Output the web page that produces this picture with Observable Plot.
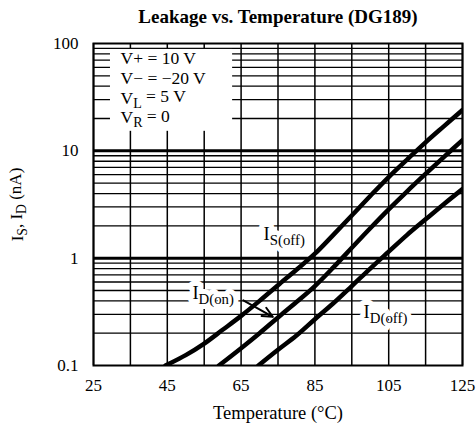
<!DOCTYPE html>
<html>
<head>
<meta charset="utf-8">
<script src="https://cdn.jsdelivr.net/npm/d3@7"></script>
<script src="https://cdn.jsdelivr.net/npm/@observablehq/plot@0.6"></script>
<style>
  html, body { margin: 0; padding: 0; background: white; }
</style>
</head>
<body>
<div id="chart"></div>
<script>
// ---- data ----
const title = "Leakage vs. Temperature (DG189)";
const xLabel = "Temperature (°C)";
const yLabel = "I_{S}, I_{D} (nA)";

const xTickLabels = [25, 45, 65, 85, 105, 125];
const xGrid = [25, 35, 45, 55, 65, 75, 85, 95, 105, 115, 125];
const yTickLabels = [0.1, 1, 10, 100];
const yGridMinor = [0.2, 0.3, 0.4, 0.5, 0.6, 0.7, 0.8, 0.9,
                    2, 3, 4, 5, 6, 7, 8, 9,
                    20, 30, 40, 50, 60, 70, 80, 90];
const yGridMajor = [1, 10];

const sOffT = [44.5, 50, 55, 60, 65, 70, 75, 80, 85, 90, 95, 100, 105, 110, 115, 120, 125];
const sOffI = [0.1, 0.125, 0.16, 0.215, 0.29, 0.4, 0.56, 0.78, 1.1, 1.65, 2.5, 3.8, 5.7, 8.3, 12, 17, 24];

const dOnT = [59, 65, 70, 75, 80, 85, 90, 95, 100, 105, 110, 115, 120, 125];
const dOnI = [0.1, 0.145, 0.2, 0.28, 0.39, 0.55, 0.82, 1.25, 1.9, 2.85, 4.2, 6.1, 8.8, 12.6];

const dOffT = [69.7, 75, 80, 85, 90, 95, 100, 105, 110, 115, 120, 125];
const dOffI = [0.1, 0.14, 0.19, 0.27, 0.38, 0.55, 0.8, 1.15, 1.65, 2.3, 3.2, 4.4];

const legendLines = ["V+ = 10 V", "V− = −20 V", "V_{L} = 5 V", "V_{R} = 0"];
const legendBox = {x1: 29.6, x2: 62.7, y1: 15.2, y2: 88};

const curveLabels = [
  {text: "I_{S(off)}", x: 71.1, y: 1.66},
  {text: "I_{D(on)}", x: 51.8, y: 0.47},
  {text: "I_{D(off)}", x: 98.2, y: 0.312}
];
const arrows = [{x1: 65.6, y1: 0.404, x2: 73.6, y2: 0.284}];

// ---- build table ----
const rows = [
  ...sOffT.map((t, i) => ({series: "IS(off)", t, v: sOffI[i]})),
  ...dOnT.map((t, i) => ({series: "ID(on)", t, v: dOnI[i]})),
  ...dOffT.map((t, i) => ({series: "ID(off)", t, v: dOffI[i]}))
];

const serif = "'Liberation Serif', 'Times New Roman', serif";

const plot = Plot.plot({
  width: 476,
  height: 429,
  marginLeft: 93,
  marginRight: 14,
  marginTop: 43,
  marginBottom: 64,
  style: {fontFamily: serif, fontSize: "17px", color: "black", background: "white"},
  x: {domain: [25, 125], ticks: xTickLabels, label: null, tickSize: 0, tickPadding: 13},
  y: {type: "log", domain: [0.1, 100], ticks: yTickLabels, tickFormat: d => String(d), label: null, tickSize: 0, tickPadding: 15},
  marks: [
    Plot.gridX(xGrid, {stroke: "black", strokeOpacity: 1, strokeWidth: 1.5}),
    Plot.gridY(yGridMinor, {stroke: "black", strokeOpacity: 1, strokeWidth: 1.3}),
    Plot.gridY(yGridMajor, {stroke: "black", strokeOpacity: 1, strokeWidth: 3}),
    Plot.rect([legendBox], {x1: "x1", x2: "x2", y1: "y1", y2: "y2", fill: "white"}),
    ...legendLines.map((t, i) => Plot.text([t], {
      text: d => d, frameAnchor: "top-left", dx: 27, dy: 15 + i * 19.7,
      textAnchor: "start", lineAnchor: "middle", fontSize: 17.5, fill: "black"
    })),
    // white mask behind the curve labels
    Plot.text(curveLabels, {x: "x", y: "y", text: "text", textAnchor: "start", lineAnchor: "middle",
      fontSize: 18.5, fill: "white", stroke: "white", strokeWidth: 10}),
    Plot.text(curveLabels, {x: "x", y: "y", text: "text", textAnchor: "start", lineAnchor: "middle",
      fontSize: 18.5, fill: "black"}),
    Plot.line(rows, {x: "t", y: "v", z: "series", stroke: "black", strokeWidth: 4.5, curve: "catmull-rom", clip: true}),
    Plot.arrow(arrows, {x1: "x1", y1: "y1", x2: "x2", y2: "y2", stroke: "black", strokeWidth: 2, headLength: 9, headAngle: 50}),
    Plot.frame({stroke: "black", strokeWidth: 2}),
    Plot.text([title], {text: d => d, frameAnchor: "top", dy: -27, lineAnchor: "middle", fontSize: 19, fontWeight: "bold", fill: "black"}),
    Plot.text([xLabel], {text: d => d, frameAnchor: "bottom", dy: 48, lineAnchor: "middle", fontSize: 18.5, fill: "black"}),
    Plot.text([yLabel], {text: d => d, frameAnchor: "left", dx: -76, rotate: -90, textAnchor: "middle", lineAnchor: "middle", fontSize: 17, fill: "black"})
  ]
});

// convert "X_{sub}" markup to real subscripts
function subify(svg) {
  svg.querySelectorAll("text").forEach(el => {
    const s = el.textContent;
    if (!s.includes("_{")) return;
    while (el.firstChild) el.removeChild(el.firstChild);
    const re = /_\{([^}]*)\}/g;
    let last = 0, m, lowered = false;
    const ns = "http://www.w3.org/2000/svg";
    const add = (txt, sub) => {
      if (!txt) return;
      const ts = document.createElementNS(ns, "tspan");
      ts.textContent = txt;
      if (sub && !lowered) { ts.setAttribute("dy", "0.3em"); ts.setAttribute("font-size", "0.8em"); lowered = true; }
      else if (sub) { ts.setAttribute("font-size", "0.8em"); }
      else if (!sub && lowered) { ts.setAttribute("dy", "-0.3em"); lowered = false; }
      el.appendChild(ts);
    };
    while ((m = re.exec(s))) {
      add(s.slice(last, m.index), false);
      add(m[1], true);
      last = re.lastIndex;
    }
    add(s.slice(last), false);
  });
}
subify(plot);
document.getElementById("chart").appendChild(plot);
</script>
</body>
</html>
